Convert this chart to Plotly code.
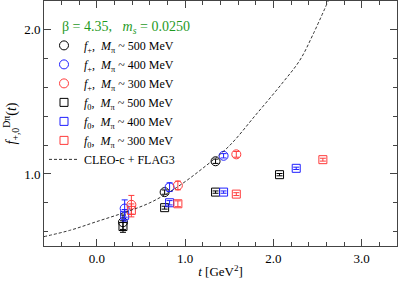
import plotly.graph_objects as go

# ---- data ----
fp500_t = [0.295, 0.767, 1.344]
fp500_f = [0.665, 0.874, 1.088]
fp500_e = [0.05, 0.015, 0.015]

fp400_t = [0.314, 0.823, 1.435]
fp400_f = [0.760, 0.908, 1.126]
fp400_e = [0.06, 0.03, 0.015]

fp300_t = [0.390, 0.917, 1.579]
fp300_f = [0.786, 0.920, 1.136]
fp300_e = [0.065, 0.03, 0.02]

f0500_t = [0.295, 0.767, 1.344, 2.069]
f0500_f = [0.635, 0.766, 0.874, 0.995]
f0500_e = [0.04, 0.01, 0.008, 0.008]

f0400_t = [0.314, 0.823, 1.435, 2.258]
f0400_f = [0.713, 0.800, 0.874, 1.039]
f0400_e = [0.04, 0.015, 0.008, 0.008]

f0300_t = [0.390, 0.917, 1.579, 2.560]
f0300_f = [0.747, 0.793, 0.860, 1.099]
f0300_e = [0.045, 0.02, 0.01, 0.01]

curve_t = [-0.6, -0.3, 0.0, 0.3, 0.6, 0.9, 1.2, 1.5, 1.8, 2.1, 2.3, 2.45, 2.62]
curve_f = [0.565, 0.61, 0.67, 0.73, 0.80, 0.905, 1.04, 1.195, 1.41, 1.63, 1.79, 1.97, 2.2]

BLACK = "#000000"
BLUE = "#1f1fff"
RED = "#ff3b3b"
GREEN = "#1f9a1f"
FONT = "Liberation Serif"

fig = go.Figure()

def add(t, f, e, color, symbol, name, size):
    fig.add_trace(go.Scatter(
        x=t, y=f, mode="markers", name=name, showlegend=False, legendgroup=name,
        marker=dict(symbol=symbol, size=size, color=color, line=dict(width=1, color=color)),
        error_y=dict(type="data", array=e, color=color, thickness=1, width=3),
    ))
    # legend entry without error bars
    fig.add_trace(go.Scatter(
        x=[None], y=[None], mode="markers", name=name, legendgroup=name,
        marker=dict(symbol=symbol, size=size, color=color, line=dict(width=1, color=color)),
    ))

add(fp500_t, fp500_f, fp500_e, BLACK, "circle-open", "<i>f</i><sub>+</sub>,  <i>M</i><sub>π</sub> ~ 500 MeV", 9)
add(fp400_t, fp400_f, fp400_e, BLUE, "circle-open", "<i>f</i><sub>+</sub>,  <i>M</i><sub>π</sub> ~ 400 MeV", 9)
add(fp300_t, fp300_f, fp300_e, RED, "circle-open", "<i>f</i><sub>+</sub>,  <i>M</i><sub>π</sub> ~ 300 MeV", 9)
add(f0500_t, f0500_f, f0500_e, BLACK, "square-open", "<i>f</i><sub>0</sub>,  <i>M</i><sub>π</sub> ~ 500 MeV", 8)
add(f0400_t, f0400_f, f0400_e, BLUE, "square-open", "<i>f</i><sub>0</sub>,  <i>M</i><sub>π</sub> ~ 400 MeV", 8)
add(f0300_t, f0300_f, f0300_e, RED, "square-open", "<i>f</i><sub>0</sub>,  <i>M</i><sub>π</sub> ~ 300 MeV", 8)

fig.add_trace(go.Scatter(
    x=curve_t, y=curve_f, mode="lines", name="CLEO-c + FLAG3",
    line=dict(color="#333333", width=1, dash="3px,2px", shape="spline"),
))

axis_common = dict(
    showline=True, linecolor="#444444", linewidth=1, mirror="allticks",
    ticks="inside", ticklen=7, tickcolor="#444444", showgrid=False, zeroline=False,
    tickfont=dict(family=FONT, size=13, color="#000"),
    tickformat=".1f", automargin=False,
)

fig.update_layout(
    width=399, height=281,
    margin=dict(l=44, r=2, t=1, b=35),
    paper_bgcolor="white", plot_bgcolor="white",
    font=dict(family=FONT, size=13, color="#000"),
    xaxis=dict(range=[-0.6, 3.4], dtick=1, tick0=0,
               minor=dict(dtick=0.2, tick0=0, ticks="inside", ticklen=4, tickcolor="#444444"),
               title=dict(text="<i>t</i> [GeV<sup>2</sup>]", standoff=2, font=dict(family=FONT, size=13)),
               **axis_common),
    yaxis=dict(range=[0.5, 2.2], dtick=1, tick0=0,
               minor=dict(dtick=0.2, tick0=0, ticks="inside", ticklen=4, tickcolor="#444444"),
               title=dict(text="<i>f</i><sub>+,0</sub><sup>Dπ</sup>(<i>t</i>)", standoff=4, font=dict(family=FONT, size=14)),
               **axis_common),
    legend=dict(x=0.0, y=0.878, xanchor="left", yanchor="top",
                bgcolor="rgba(0,0,0,0)", font=dict(family=FONT, size=12),
                tracegroupgap=0),
    showlegend=True,
)

fig.add_annotation(
    text="β = 4.35,   <i>m<sub>s</sub></i> = 0.0250",
    xref="paper", yref="paper", x=0.045, y=0.893, xanchor="left", yanchor="middle",
    showarrow=False, font=dict(family=FONT, size=14, color=GREEN),
)

fig.write_html(
    "out.html",
    config={"displayModeBar": False},
    post_script="document.body.style.margin='0';document.body.style.padding='0';",
)
